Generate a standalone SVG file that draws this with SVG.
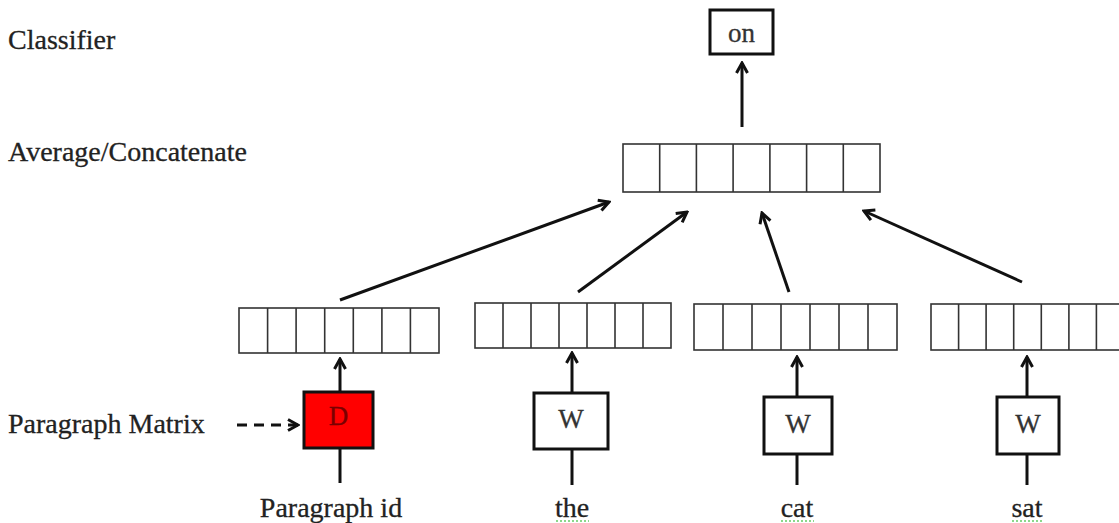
<svg xmlns="http://www.w3.org/2000/svg" width="1119" height="523" viewBox="0 0 1119 523">
<defs>
<style>
.lbl{font-family:"Liberation Serif","Times New Roman",serif;font-size:28px;fill:#222;stroke:#222;stroke-width:0.3}
.in{font-family:"Liberation Serif","Times New Roman",serif;font-size:27px;fill:#333;text-anchor:middle;stroke:#333;stroke-width:0.3}
.cell{fill:#fff;stroke:#333;stroke-width:1.6}
.box{fill:#fff;stroke:#111;stroke-width:3}
.con{stroke:#111;stroke-width:3;fill:none}
.sq{stroke:#6c6;stroke-width:1.5;stroke-dasharray:2 2;fill:none}
</style>
<marker id="ah" viewBox="0 0 14 14" refX="12" refY="7" markerWidth="14" markerHeight="14" markerUnits="userSpaceOnUse" orient="auto">
<path d="M2,1.5 L12,7 L2,12.5" fill="none" stroke="#111" stroke-width="3"/>
</marker>
</defs>

<g id="labels">
<text class="lbl" x="8" y="49">Classifier</text>
<text class="lbl" x="8" y="161">Average/Concatenate</text>
<text class="lbl" x="8" y="433">Paragraph Matrix</text>
</g>

<g id="node-on">
<rect class="box" x="710" y="10" width="63" height="44"/>
<text class="in" x="741.5" y="42">on</text>
</g>

<g id="node-concat">
<rect class="cell" x="623" y="144" width="257" height="48"/>
<path class="cell" d="M659.7,144V192M696.4,144V192M733.1,144V192M769.9,144V192M806.6,144V192M843.3,144V192"/>
</g>

<g id="node-vec-d">
<rect class="cell" x="239" y="308" width="200" height="45"/>
<path class="cell" d="M267.6,308V353M296.1,308V353M324.7,308V353M353.3,308V353M381.9,308V353M410.4,308V353"/>
</g>

<g id="node-vec-the">
<rect class="cell" x="475" y="303" width="196" height="45"/>
<path class="cell" d="M503,303V348M531,303V348M559,303V348M587,303V348M615,303V348M643,303V348"/>
</g>

<g id="node-vec-cat">
<rect class="cell" x="694" y="304" width="203" height="46"/>
<path class="cell" d="M723,304V350M752,304V350M781,304V350M810,304V350M839,304V350M868,304V350"/>
</g>

<g id="node-vec-sat">
<rect class="cell" x="931" y="304" width="193" height="46"/>
<path class="cell" d="M958.6,304V350M986.1,304V350M1013.7,304V350M1041.3,304V350M1068.9,304V350M1096.4,304V350"/>
</g>

<g id="node-D">
<rect x="304" y="392" width="69" height="56" fill="#f00" stroke="#111" stroke-width="3"/>
<text class="in" x="338.5" y="425" style="fill:#7a0000;stroke:#7a0000">D</text>
</g>

<g id="node-W1">
<rect class="box" x="534" y="393" width="74" height="56"/>
<text class="in" x="571" y="428">W</text>
</g>

<g id="node-W2">
<rect class="box" x="764" y="397" width="68" height="57"/>
<text class="in" x="798" y="433">W</text>
</g>

<g id="node-W3">
<rect class="box" x="997" y="397" width="62" height="57"/>
<text class="in" x="1028" y="433">W</text>
</g>

<g id="inputs">
<text class="lbl" x="331" y="517" text-anchor="middle">Paragraph id</text>
<text class="lbl" x="572" y="517" text-anchor="middle">the</text>
<path class="sq" d="M556,521H589"/>
<text class="lbl" x="797" y="517" text-anchor="middle">cat</text>
<path class="sq" d="M781,521H814"/>
<text class="lbl" x="1027" y="517" text-anchor="middle">sat</text>
<path class="sq" d="M1012,521H1043"/>
</g>

<g id="connectors">
<line class="con" x1="742" y1="127" x2="742" y2="63" marker-end="url(#ah)"/>
<line class="con" x1="340" y1="300" x2="609" y2="202" marker-end="url(#ah)"/>
<line class="con" x1="578" y1="292" x2="687" y2="212" marker-end="url(#ah)"/>
<line class="con" x1="789" y1="292" x2="762" y2="213" marker-end="url(#ah)"/>
<line class="con" x1="1022" y1="282" x2="864" y2="211" marker-end="url(#ah)"/>
<line class="con" x1="340" y1="392" x2="340" y2="359" marker-end="url(#ah)"/>
<line class="con" x1="340" y1="448" x2="340" y2="483"/>
<line class="con" x1="237" y1="425" x2="298" y2="425" stroke-dasharray="10 7" marker-end="url(#ah)"/>
<line class="con" x1="572" y1="393" x2="572" y2="353" marker-end="url(#ah)"/>
<line class="con" x1="572" y1="449" x2="572" y2="485"/>
<line class="con" x1="797" y1="397" x2="797" y2="357" marker-end="url(#ah)"/>
<line class="con" x1="797" y1="454" x2="797" y2="485"/>
<line class="con" x1="1027" y1="397" x2="1027" y2="357" marker-end="url(#ah)"/>
<line class="con" x1="1027" y1="454" x2="1027" y2="485"/>
</g>
</svg>
